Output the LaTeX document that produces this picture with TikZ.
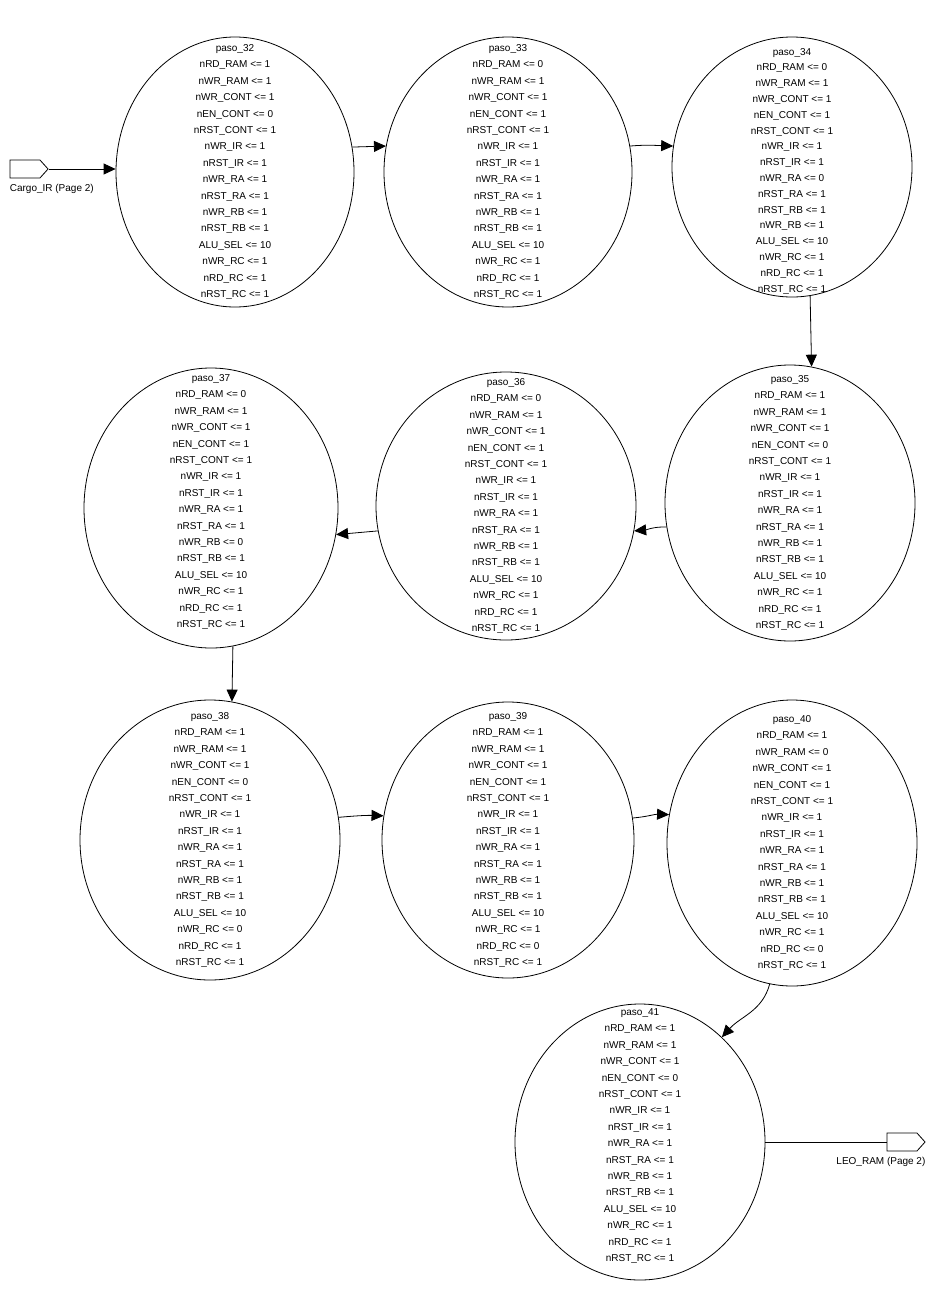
\documentclass[tikz,border=0pt]{standalone}
\usepackage{fontspec}
\setmainfont{Liberation Sans}
\usetikzlibrary{shapes.geometric,shapes.symbols,arrows.meta,positioning,calc}

\tikzset{
  paso/.style={ellipse, draw, line width=0.8pt, inner sep=0pt},
  acts/.style={align=center, inner sep=0pt, font=\fontsize{10}{16.4}\selectfont},
  trans/.style={line width=0.8pt, -{Triangle[length=12pt,width=11pt]}},
  pagina/.style={signal, signal to=east, signal pointer angle=96, draw, line width=0.8pt,
    minimum width=38pt, minimum height=18pt, inner sep=0pt},
  etiqueta/.style={inner sep=0pt, font=\fontsize{10}{12}\selectfont}
}

\begin{document}
\begin{tikzpicture}[x=1pt,y=1pt]
  \useasboundingbox (0,0) rectangle (936,-1296);

  % fila 1
  \node[paso, minimum width=238, minimum height=270] (s32) at (235,-172) {};
  \node[acts] (t32) at (s32.center) {paso\_32\\nRD\_RAM <= 1\\nWR\_RAM <= 1\\nWR\_CONT <= 1\\nEN\_CONT <= 0\\nRST\_CONT <= 1\\nWR\_IR <= 1\\nRST\_IR <= 1\\nWR\_RA <= 1\\nRST\_RA <= 1\\nWR\_RB <= 1\\nRST\_RB <= 1\\ALU\_SEL <= 10\\nWR\_RC <= 1\\nRD\_RC <= 1\\nRST\_RC <= 1};

  \node[paso, minimum width=248, minimum height=270] (s33) at (508,-172) {};
  \node[acts] (t33) at (s33.center) {paso\_33\\nRD\_RAM <= 0\\nWR\_RAM <= 1\\nWR\_CONT <= 1\\nEN\_CONT <= 1\\nRST\_CONT <= 1\\nWR\_IR <= 1\\nRST\_IR <= 1\\nWR\_RA <= 1\\nRST\_RA <= 1\\nWR\_RB <= 1\\nRST\_RB <= 1\\ALU\_SEL <= 10\\nWR\_RC <= 1\\nRD\_RC <= 1\\nRST\_RC <= 1};

  \node[paso, minimum width=240, minimum height=260] (s34) at (792,-167) {};
  \node[acts, font=\fontsize{10}{15.8}\selectfont] (t34) at ($(s34.center)+(0,-4)$) {paso\_34\\nRD\_RAM <= 0\\nWR\_RAM <= 1\\nWR\_CONT <= 1\\nEN\_CONT <= 1\\nRST\_CONT <= 1\\nWR\_IR <= 1\\nRST\_IR <= 1\\nWR\_RA <= 0\\nRST\_RA <= 1\\nRST\_RB <= 1\\nWR\_RB <= 1\\ALU\_SEL <= 10\\nWR\_RC <= 1\\nRD\_RC <= 1\\nRST\_RC <= 1};

  % fila 2
  \node[paso, minimum width=250, minimum height=276] (s35) at (790,-503) {};
  \node[acts] (t35) at (s35.center) {paso\_35\\nRD\_RAM <= 1\\nWR\_RAM <= 1\\nWR\_CONT <= 1\\nEN\_CONT <= 0\\nRST\_CONT <= 1\\nWR\_IR <= 1\\nRST\_IR <= 1\\nWR\_RA <= 1\\nRST\_RA <= 1\\nWR\_RB <= 1\\nRST\_RB <= 1\\ALU\_SEL <= 10\\nWR\_RC <= 1\\nRD\_RC <= 1\\nRST\_RC <= 1};

  \node[paso, minimum width=260, minimum height=268] (s36) at (506,-506) {};
  \node[acts] (t36) at (s36.center) {paso\_36\\nRD\_RAM <= 0\\nWR\_RAM <= 1\\nWR\_CONT <= 1\\nEN\_CONT <= 1\\nRST\_CONT <= 1\\nWR\_IR <= 1\\nRST\_IR <= 1\\nWR\_RA <= 1\\nRST\_RA <= 1\\nWR\_RB <= 1\\nRST\_RB <= 1\\ALU\_SEL <= 10\\nWR\_RC <= 1\\nRD\_RC <= 1\\nRST\_RC <= 1};

  \node[paso, minimum width=254, minimum height=280] (s37) at (211,-508) {};
  \node[acts] (t37) at ($(s37.center)+(0,6)$) {paso\_37\\nRD\_RAM <= 0\\nWR\_RAM <= 1\\nWR\_CONT <= 1\\nEN\_CONT <= 1\\nRST\_CONT <= 1\\nWR\_IR <= 1\\nRST\_IR <= 1\\nWR\_RA <= 1\\nRST\_RA <= 1\\nWR\_RB <= 0\\nRST\_RB <= 1\\ALU\_SEL <= 10\\nWR\_RC <= 1\\nRD\_RC <= 1\\nRST\_RC <= 1};

  % fila 3
  \node[paso, minimum width=260, minimum height=280] (s38) at (210,-840) {};
  \node[acts] (t38) at (s38.center) {paso\_38\\nRD\_RAM <= 1\\nWR\_RAM <= 1\\nWR\_CONT <= 1\\nEN\_CONT <= 0\\nRST\_CONT <= 1\\nWR\_IR <= 1\\nRST\_IR <= 1\\nWR\_RA <= 1\\nRST\_RA <= 1\\nWR\_RB <= 1\\nRST\_RB <= 1\\ALU\_SEL <= 10\\nWR\_RC <= 0\\nRD\_RC <= 1\\nRST\_RC <= 1};

  \node[paso, minimum width=252, minimum height=276] (s39) at (508,-840) {};
  \node[acts] (t39) at (s39.center) {paso\_39\\nRD\_RAM <= 1\\nWR\_RAM <= 1\\nWR\_CONT <= 1\\nEN\_CONT <= 1\\nRST\_CONT <= 1\\nWR\_IR <= 1\\nRST\_IR <= 1\\nWR\_RA <= 1\\nRST\_RA <= 1\\nWR\_RB <= 1\\nRST\_RB <= 1\\ALU\_SEL <= 10\\nWR\_RC <= 1\\nRD\_RC <= 0\\nRST\_RC <= 1};

  \node[paso, minimum width=250, minimum height=286] (s40) at (792,-843) {};
  \node[acts] (t40) at (s40.center) {paso\_40\\nRD\_RAM <= 1\\nWR\_RAM <= 0\\nWR\_CONT <= 1\\nEN\_CONT <= 1\\nRST\_CONT <= 1\\nWR\_IR <= 1\\nRST\_IR <= 1\\nWR\_RA <= 1\\nRST\_RA <= 1\\nWR\_RB <= 1\\nRST\_RB <= 1\\ALU\_SEL <= 10\\nWR\_RC <= 1\\nRD\_RC <= 0\\nRST\_RC <= 1};

  % fila 4
  \node[paso, minimum width=250, minimum height=276] (s41) at (640,-1142) {};
  \node[acts] (t41) at ($(s41.center)+(0,6)$) {paso\_41\\nRD\_RAM <= 1\\nWR\_RAM <= 1\\nWR\_CONT <= 1\\nEN\_CONT <= 0\\nRST\_CONT <= 1\\nWR\_IR <= 1\\nRST\_IR <= 1\\nWR\_RA <= 1\\nRST\_RA <= 1\\nWR\_RB <= 1\\nRST\_RB <= 1\\ALU\_SEL <= 10\\nWR\_RC <= 1\\nRD\_RC <= 1\\nRST\_RC <= 1};

  % conectores de pagina
  \node[pagina] (cargo) at (25,-169) {};
  \node[etiqueta, below right=6pt and 0pt of cargo.south west] (lcargo) {Cargo\_IR (Page 2)};
  \node[pagina] (leo) at (902,-1142) {};
  \node[etiqueta, anchor=north east] (lleo) at ($(leo.east |- leo.south)+(0,-6)$) {LEO\_RAM (Page 2)};

  % transiciones
  \draw[trans] (cargo.east) -- (cargo.east -| s32.west);
  \draw[trans] (s32.12) -- (s33.168);
  \draw[trans] (s33.12) to[out=5,in=178] (s34.170);
  \draw[trans] (s34.278) -- (s35.81);
  \draw[trans] (s35.191) to[out=178,in=5] (s36.349);
  \draw[trans] (s36.191) -- (s37.348);
  \draw[trans] (s37.279) -- (s38.81);
  \draw[trans] (s38.10) to[out=5,in=178] (s39.169);
  \draw[trans] (s39.10) to[out=5,in=178] (s40.167);
  \draw[trans] (s40.261) to[out=-105,in=48] (s41.52);
  \draw[line width=0.8pt] (s41.east) -- (leo.west);
\end{tikzpicture}
\end{document}
